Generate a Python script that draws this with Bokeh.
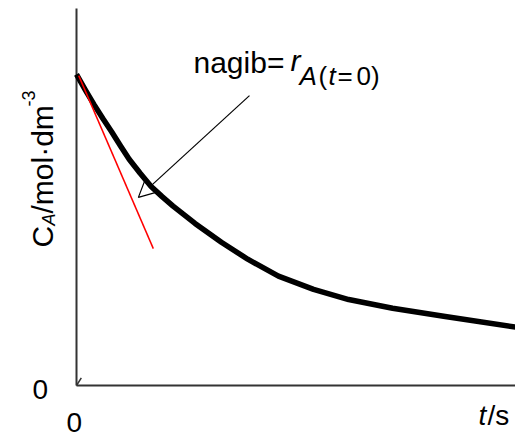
import math
from bokeh.plotting import figure
from bokeh.models import Label, Arrow, NormalHead, Range1d
from bokeh.embed import file_html
from bokeh.resources import INLINE

# data (x: time, arbitrary units 0..10; y: concentration, arbitrary units 0..1)
t_vals = [0.0, 0.2, 0.4, 0.6, 0.8, 1.0, 1.2, 1.45, 1.7, 1.95, 2.2, 2.7, 3.3, 3.9, 4.6, 5.4, 6.2, 7.2, 8.4, 10.0]
c_vals = [0.825, 0.784, 0.745, 0.708, 0.673, 0.636, 0.60, 0.563, 0.528, 0.501, 0.476, 0.43, 0.38, 0.335, 0.29, 0.255, 0.228, 0.205, 0.183, 0.155]
tangent_t = [0.05, 1.75]
tangent_c = [0.822, 0.363]
arrow_start = [3.94, 0.769]
arrow_end = [1.41, 0.499]
axis_t = [0.0, 10.0]
axis_c = [0.0, 1.0]

FONT = "Liberation Sans"
W, H = 515, 439
# page pixel geometry of the plotting area (origin / ends of the axes)
X0, XEND, Y0, YTOP = 76, 515, 385, 8
sx = (axis_t[1] - axis_t[0]) / (XEND - X0)
sy = (axis_c[1] - axis_c[0]) / (Y0 - YTOP)

p = figure(width=W, height=H, output_backend="svg", toolbar_location=None,
           x_axis_type=None, y_axis_type=None,
           x_range=Range1d(-X0 * sx, (W - X0) * sx),
           y_range=Range1d(-(H - Y0) * sy, Y0 * sy),
           min_border=0)
p.grid.visible = False
p.outline_line_color = None

# axes drawn as lines
p.line([axis_t[0], axis_t[1]], [0, 0], line_color="#333333", line_width=2)
p.line([0, 0], [axis_c[0], axis_c[1]], line_color="#333333", line_width=2)
p.line([0, 0.11], [0, 0.02], line_color="#333333", line_width=1.5)

p.line(t_vals, c_vals, line_width=5.5, line_color="black", line_join="round")
p.line(tangent_t, tangent_c, line_width=1.5, line_color="red")
p.add_layout(Arrow(end=NormalHead(size=18, line_width=1.2, line_color="black", fill_color=None),
                   x_start=arrow_start[0], y_start=arrow_start[1],
                   x_end=arrow_end[0], y_end=arrow_end[1],
                   line_width=1.2, line_color="black"))

def lab(px, py, text, size, style="normal", angle=0, **kw):
    # px, py: page pixel position of the text anchor
    p.add_layout(Label(x=(px - X0) * sx, y=(Y0 - py) * sy, text=text,
                       text_font=FONT, text_font_size=f"{size}px", text_font_style=style,
                       text_baseline="alphabetic", angle=angle, text_color="black", **kw))

lab(193, 62, "nagib=", 30)
lab(290, 60, "r", 30, "italic")
lab(299, 75, "A", 26, "italic")
lab(318, 75, "(", 26)
lab(328, 75, "t", 26, "italic")
lab(337, 75, "=", 26)
lab(356, 75, "0)", 26)

lab(32, 389, "0", 28)
lab(66, 422, "0", 28)
lab(478, 415, "t", 28, "italic")
lab(487, 415, "/s", 28)

# rotated y-axis label, reading bottom to top
a = math.pi / 2
lab(42, 247, "C", 30, angle=a)
lab(48, 225, "A", 18, "italic", angle=a)
lab(42, 213, "/mol·dm", 30, angle=a)
lab(28, 106, "-3", 18, angle=a)

open("out.html", "w").write(file_html(p, INLINE))
